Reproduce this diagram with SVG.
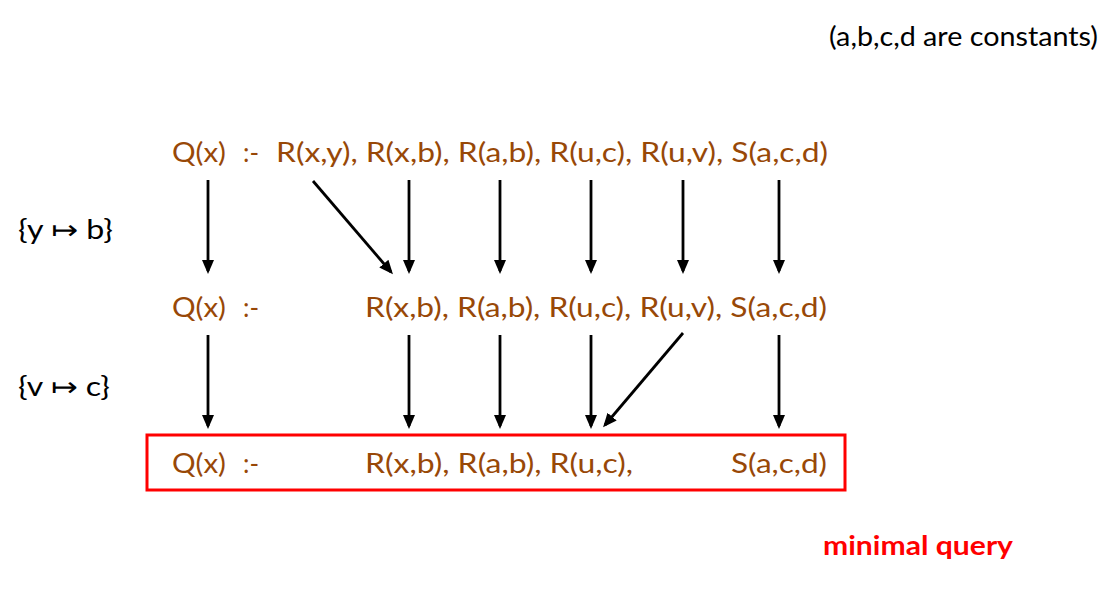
<svg xmlns="http://www.w3.org/2000/svg" width="1117" height="598" viewBox="0 0 1117 598">
<defs>
<style>
.q{font-family:Lato,"Open Sans","DejaVu Sans",sans-serif;font-size:26px;fill:#984807}
.k{font-family:Lato,"Open Sans","DejaVu Sans",sans-serif;font-size:26px;fill:#000}
.m{font-family:Lato,"Open Sans","DejaVu Sans",sans-serif;font-size:26px;font-weight:bold;fill:#ff0000}
.c{stroke:#000;stroke-width:2.8;fill:none;marker-end:url(#ah)}
</style>
<marker id="ah" markerUnits="userSpaceOnUse" markerWidth="16" markerHeight="14" refX="11" refY="6" orient="auto">
<path d="M0,0 L14,6 L0,12 z" fill="#000"/>
</marker>
</defs>
<rect width="1117" height="598" fill="#fff"/>
<g id="note"><text class="k" x="829" y="46" textLength="269" lengthAdjust="spacingAndGlyphs">(a,b,c,d are constants)</text></g>
<g id="row1">
<text class="q" x="172" y="162" textLength="54" lengthAdjust="spacingAndGlyphs">Q(x)</text>
<text class="q" x="243" y="162" textLength="16" lengthAdjust="spacingAndGlyphs">:-</text>
<text class="q" x="276" y="162" textLength="552" lengthAdjust="spacingAndGlyphs">R(x,y), R(x,b), R(a,b), R(u,c), R(u,v), S(a,c,d)</text>
</g>
<g id="map1"><text class="k" x="18" y="239" textLength="95" lengthAdjust="spacingAndGlyphs">{y ↦ b}</text></g>
<g id="row2">
<text class="q" x="172" y="317" textLength="54" lengthAdjust="spacingAndGlyphs">Q(x)</text>
<text class="q" x="243" y="317" textLength="16" lengthAdjust="spacingAndGlyphs">:-</text>
<text class="q" x="365" y="317" textLength="462" lengthAdjust="spacingAndGlyphs">R(x,b), R(a,b), R(u,c), R(u,v), S(a,c,d)</text>
</g>
<g id="map2"><text class="k" x="18" y="396" textLength="92" lengthAdjust="spacingAndGlyphs">{v ↦ c}</text></g>
<g id="row3">
<rect x="147" y="435" width="698" height="55" fill="none" stroke="#ff0000" stroke-width="3"/>
<text class="q" x="172" y="473" textLength="54" lengthAdjust="spacingAndGlyphs">Q(x)</text>
<text class="q" x="243" y="473" textLength="16" lengthAdjust="spacingAndGlyphs">:-</text>
<text class="q" x="365" y="473" textLength="268" lengthAdjust="spacingAndGlyphs">R(x,b), R(a,b), R(u,c),</text>
<text class="q" x="731" y="473" textLength="96" lengthAdjust="spacingAndGlyphs">S(a,c,d)</text>
</g>
<g id="label"><text class="m" x="823" y="555" textLength="190" lengthAdjust="spacingAndGlyphs">minimal query</text></g>
<g id="connectors">
<line class="c" x1="208" y1="180" x2="208" y2="271"/>
<line class="c" x1="313" y1="181" x2="391" y2="272"/>
<line class="c" x1="409" y1="180" x2="409" y2="271"/>
<line class="c" x1="500" y1="180" x2="500" y2="271"/>
<line class="c" x1="591" y1="180" x2="591" y2="271"/>
<line class="c" x1="683" y1="180" x2="683" y2="271"/>
<line class="c" x1="779" y1="180" x2="779" y2="271"/>
<line class="c" x1="208" y1="335" x2="208" y2="426"/>
<line class="c" x1="409" y1="335" x2="409" y2="426"/>
<line class="c" x1="500" y1="335" x2="500" y2="426"/>
<line class="c" x1="591" y1="335" x2="591" y2="426"/>
<line class="c" x1="683" y1="333" x2="605" y2="425"/>
<line class="c" x1="779" y1="335" x2="779" y2="426"/>
</g>
</svg>
